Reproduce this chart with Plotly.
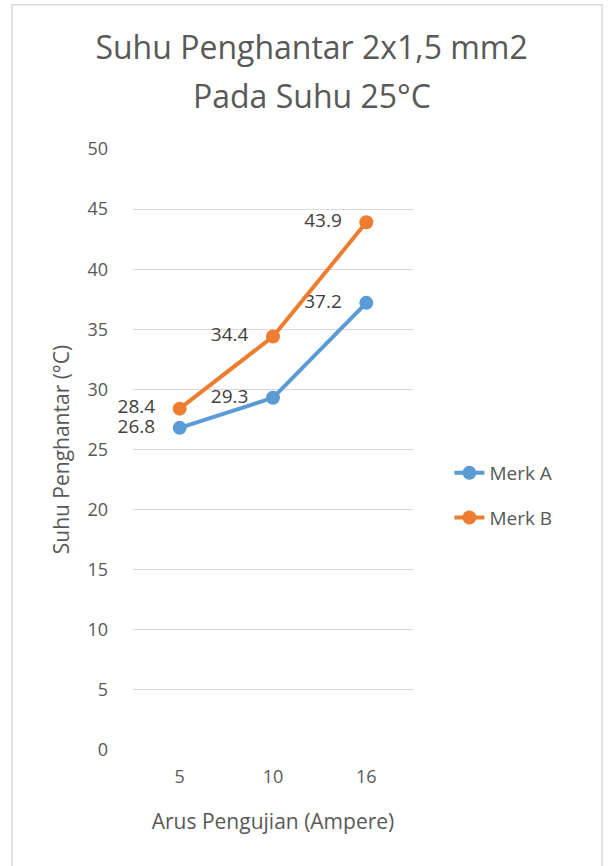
import plotly.graph_objects as go

categories = ["5", "10", "16"]
merk_a = [26.8, 29.3, 37.2]
merk_b = [28.4, 34.4, 43.9]
series_names = ["Merk A", "Merk B"]
colors = ["#5B9BD5", "#ED7D31"]
y_ticks = [0, 5, 10, 15, 20, 25, 30, 35, 40, 45, 50]
title_line1 = "Suhu Penghantar 2x1,5 mm2"
title_line2 = "Pada Suhu 25°C"

FONT = "Open Sans"

fig = go.Figure()
for i, (name, vals) in enumerate(zip(series_names, [merk_a, merk_b])):
    fig.add_trace(go.Scatter(
        x=categories, y=vals, name=name, mode="lines+markers+text",
        line=dict(color=colors[i], width=4),
        marker=dict(color=colors[i], size=14),
        text=[f"{v:.1f}   " for v in vals],
        textposition="middle left",
        textfont=dict(family=FONT, size=19, color="#404040"),
        legendgroup=name,
        cliponaxis=False,
    ))

fig.update_layout(
    width=611, height=866,
    margin=dict(l=133, r=198, t=149, b=116),
    paper_bgcolor="white", plot_bgcolor="white",
    font=dict(family=FONT, color="#595959"),
    title=dict(
        text=title_line1,
        x=0.51, xanchor="center", y=1 - 48 / 866, yanchor="middle",
        font=dict(family=FONT, size=32, color="#595959"),
    ),
    annotations=[dict(
        text=title_line2, xref="paper", yref="paper",
        x=0.51 * 611 / 280 - 133 / 280, y=1 + (149 - 95) / 601,
        xanchor="center", yanchor="middle", showarrow=False,
        font=dict(family=FONT, size=32, color="#595959"),
    )],
    xaxis=dict(
        type="category", range=[-0.5, 2.5], showgrid=False, zeroline=False, showline=False,
        ticks="", ticklabelstandoff=14, tickfont=dict(size=18, color="#595959"),
        title=dict(text="Arus Pengujian (Ampere)", font=dict(size=21, color="#595959"), standoff=27),
    ),
    yaxis=dict(
        range=[0, 50], tickvals=y_ticks, showgrid=True, gridcolor="#D9D9D9", gridwidth=1.3,
        zeroline=False, showline=False, ticks="", ticklabelstandoff=24,
        tickfont=dict(size=18, color="#595959"),
        title=dict(text="Suhu Penghantar (°C)", font=dict(size=21, color="#595959"), standoff=12),
    ),
    legend=dict(
        x=1.13, y=0.4925, xanchor="left", yanchor="top",
        font=dict(size=19, color="#595959"), tracegroupgap=17,
        bgcolor="rgba(0,0,0,0)",
    ),
    shapes=[dict(type="rect", xref="paper", yref="paper",
                 x0=-0.432, x1=1.675, y0=-0.24, y1=1.24,
                 line=dict(color="#D9D9D9", width=1.5))],
)

fig.write_html("out.html")
